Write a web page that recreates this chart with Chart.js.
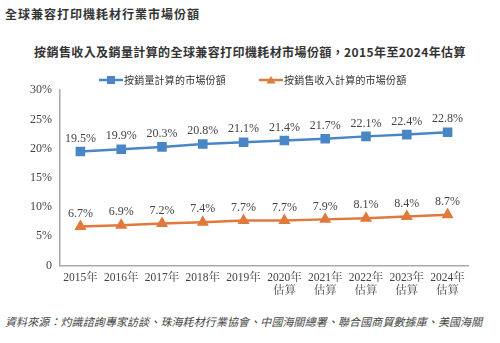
<!DOCTYPE html>
<html>
<head>
<meta charset="utf-8">
<script src="https://cdn.jsdelivr.net/npm/chart.js@4"></script>
<style>
  body { margin: 0; background: #fff; width: 500px; height: 343px; position: relative; overflow: hidden;
         font-family: "Noto Sans CJK TC", "Noto Sans", sans-serif; color: #333; }
  #t1 { position: absolute; left: 5px; top: 5px; font-size: 12px; font-weight: bold; letter-spacing: 1px; }
  #t2 { position: absolute; left: 0; width: 500px; top: 43px; text-align: center; font-size: 12px; font-weight: bold; letter-spacing: 0.4px; }
  #src { position: absolute; left: 5px; top: 313px; font-size: 11px; font-style: italic; letter-spacing: 0.1px; color: #444; }
  #wrap { position: absolute; left: 0; top: 75px; width: 500px; height: 229px; }
  .leg { position: absolute; top: 72px; height: 16px; font-size: 10px; line-height: 16px; letter-spacing: 0.2px; color: #333; }
  .leg canvas { position: absolute; top: 3px; }
  .leg span { position: absolute; left: 25px; white-space: nowrap; }
</style>
</head>
<body>
<div id="t1">全球兼容打印機耗材行業市場份額</div>
<div id="t2">按銷售收入及銷量計算的全球兼容打印機耗材市場份額，2015年至2024年估算</div>
<div id="wrap"><canvas id="chart"></canvas></div>
<div class="leg" id="leg0" style="left:99px"></div>
<div class="leg" id="leg1" style="left:259px"></div>
<div id="src">資料來源：灼識諮詢專家訪談、珠海耗材行業協會、中國海關總署、聯合國商貿數據庫、美國海關</div>
<script>
const years = [['2015年'], ['2016年'], ['2017年'], ['2018年'], ['2019年'],
               ['2020年', '估算'], ['2021年', '估算'], ['2022年', '估算'], ['2023年', '估算'], ['2024年', '估算']];
const volumeShare = [19.5, 19.9, 20.3, 20.8, 21.1, 21.4, 21.7, 22.1, 22.4, 22.8];
const revenueShare = [6.7, 6.9, 7.2, 7.4, 7.7, 7.7, 7.9, 8.1, 8.4, 8.7];
const yTicks = [0, 5, 10, 15, 20, 25, 30];

const blue = '#4a86c6';
const orange = '#e07a3c';

// legend icon: short line with marker in the middle
function legendIcon(color, style) {
    const c = document.createElement('canvas');
    c.width = 24; c.height = 10;
    const g = c.getContext('2d');
    g.strokeStyle = color; g.fillStyle = color; g.lineWidth = 2.5;
    g.beginPath(); g.moveTo(0, 5); g.lineTo(24, 5); g.stroke();
    if (style === 'rect') {
        g.fillRect(8, 1, 8, 8);
    } else {
        g.beginPath(); g.moveTo(12, 1); g.lineTo(16.5, 8.5); g.lineTo(7.5, 8.5); g.closePath(); g.fill();
    }
    return c;
}

// values printed above each point
const valueLabels = {
    id: 'valueLabels',
    afterDatasetsDraw(chart) {
        const ctx = chart.ctx;
        ctx.save();
        ctx.font = '12px "Liberation Serif", "DejaVu Serif", serif';
        ctx.fillStyle = '#444';
        ctx.textAlign = 'center';
        ctx.textBaseline = 'bottom';
        chart.data.datasets.forEach((ds, i) => {
            chart.getDatasetMeta(i).data.forEach((pt, j) => {
                ctx.fillText(ds.data[j].toFixed(1) + '%', pt.x, pt.y - 7);
            });
        });
        ctx.restore();
    }
};

const chart = new Chart(document.getElementById('chart'), {
    type: 'line',
    data: {
        labels: years,
        datasets: [{
            label: '按銷量計算的市場份額',
            data: volumeShare,
            borderColor: blue,
            backgroundColor: blue,
            borderWidth: 2.5,
            pointStyle: 'rect',
            pointRadius: 5,
            pointHoverRadius: 5
        }, {
            label: '按銷售收入計算的市場份額',
            data: revenueShare,
            borderColor: orange,
            backgroundColor: orange,
            borderWidth: 2.5,
            pointStyle: 'triangle',
            pointRadius: 4.5,
            pointHoverRadius: 4.5
        }]
    },
    options: {
        responsive: true,
        maintainAspectRatio: false,
        animation: false,
        layout: { padding: { left: 5, right: 32, top: 3, bottom: 0 } },
        plugins: {
            legend: { display: false },
            tooltip: { enabled: false }
        },
        scales: {
            x: {
                offset: true,
                grid: { display: false, drawTicks: false },
                border: { color: '#aaa', width: 1.5 },
                ticks: {
                    color: '#444',
                    padding: 6,
                    maxRotation: 0,
                    autoSkip: false,
                    font: { size: 11.5, family: '"Liberation Serif", "Noto Serif CJK TC", serif', lineHeight: 1.15 }
                }
            },
            y: {
                min: 0,
                max: 30,
                afterFit(scale) { scale.width = 55; },
                afterBuildTicks(scale) { scale.ticks = yTicks.map(v => ({ value: v })); },
                grid: { display: false, drawTicks: false },
                border: { color: '#aaa', width: 1.5 },
                ticks: {
                    color: '#444',
                    padding: 8,
                    font: { size: 12, family: '"Liberation Serif", "DejaVu Serif", serif' },
                    callback: v => v === 0 ? '0' : v + '%'
                }
            }
        }
    },
    plugins: [valueLabels]
});

// html legend built from the datasets
chart.data.datasets.forEach((ds, i) => {
    const box = document.getElementById('leg' + i);
    box.appendChild(legendIcon(ds.borderColor, ds.pointStyle));
    const span = document.createElement('span');
    span.textContent = ds.label;
    box.appendChild(span);
});
</script>
</body>
</html>
